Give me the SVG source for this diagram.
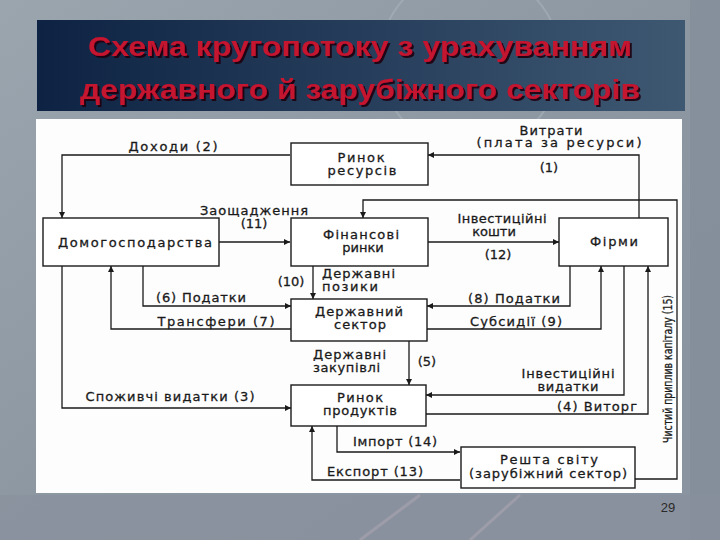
<svg xmlns="http://www.w3.org/2000/svg" width="720" height="540" viewBox="0 0 720 540">
<defs>
<linearGradient id="bg" x1="0" y1="0" x2="1" y2="1">
<stop offset="0" stop-color="#9aa5ae"/>
<stop offset="0.5" stop-color="#8c97a2"/>
<stop offset="1" stop-color="#8a93a0"/>
</linearGradient>
<linearGradient id="tb" x1="0" y1="0" x2="1" y2="0">
<stop offset="0" stop-color="#0e2343"/>
<stop offset="1" stop-color="#3e5872"/>
</linearGradient>
<filter id="sh" x="-5%" y="-20%" width="110%" height="140%">
<feDropShadow dx="2" dy="2" stdDeviation="0.6" flood-color="#1c0508" flood-opacity="0.9"/>
</filter>
<marker id="ar" viewBox="0 0 10 10" refX="10" refY="5" markerWidth="7" markerHeight="6" markerUnits="userSpaceOnUse" orient="auto">
<path d="M0,0 L10,5 L0,10 z" fill="#1a1a1a"/>
</marker>
<style>
.t{font-family:"DejaVu Sans","Liberation Sans",Arial,sans-serif;font-size:13px;fill:#1a1a1a;stroke:#1a1a1a;stroke-width:0.3;}
.m{text-anchor:middle;}
.box{fill:#ffffff;stroke:#1a1a1a;stroke-width:1.4;}
.c{fill:none;stroke:#1a1a1a;stroke-width:1.3;}
.ttl{font-family:"Liberation Sans",Arial,sans-serif;font-size:28px;font-weight:bold;text-anchor:middle;fill:#c4122f;filter:url(#sh);}
</style>
</defs>
<g id="background">
<rect x="0" y="0" width="720" height="540" fill="url(#bg)"/>
<circle cx="470" cy="60" r="90" fill="none" stroke="#a9b3bb" stroke-width="2" opacity="0.6"/>
<rect x="690" y="0" width="30" height="540" fill="#7f8a96" opacity="0.5"/>
<rect x="0" y="495" width="720" height="45" fill="#8a8f9c" opacity="0.6"/>
<path d="M360,540 L420,495 M470,540 L520,495" stroke="#b0a7b5" stroke-width="3" opacity="0.5"/>
</g>
<g id="title">
<rect x="37" y="20" width="648" height="91" fill="url(#tb)"/>
<text class="ttl" x="360" y="56" textLength="544" lengthAdjust="spacingAndGlyphs">Схема кругопотоку з урахуванням</text>
<text class="ttl" x="360" y="99" textLength="560" lengthAdjust="spacingAndGlyphs">державного й зарубіжного секторів</text>
</g>
<rect id="panel" x="36" y="119" width="646" height="374" fill="#fdfdfd"/>
<g id="connectors">
<path class="c" d="M639,218 V155 H428" marker-end="url(#ar)"/>
<path class="c" d="M290,155 H62 V218" marker-end="url(#ar)"/>
<path class="c" d="M219,242 H290" marker-end="url(#ar)"/>
<path class="c" d="M635,479 H677 V200 H363 V218" marker-end="url(#ar)"/>
<path class="c" d="M428,242 H559" marker-end="url(#ar)"/>
<path class="c" d="M313,266 V299" marker-end="url(#ar)"/>
<path class="c" d="M143,266 V306 H291" marker-end="url(#ar)"/>
<path class="c" d="M291,329 H111 V266" marker-end="url(#ar)"/>
<path class="c" d="M570,266 V306 H427" marker-end="url(#ar)"/>
<path class="c" d="M427,329 H601 V266" marker-end="url(#ar)"/>
<path class="c" d="M62,266 V408 H291" marker-end="url(#ar)"/>
<path class="c" d="M409,341 V385" marker-end="url(#ar)"/>
<path class="c" d="M624,266 V395 H426" marker-end="url(#ar)"/>
<path class="c" d="M426,414 H648 V266" marker-end="url(#ar)"/>
<path class="c" d="M337,426 V452 H460" marker-end="url(#ar)"/>
<path class="c" d="M460,480 H312 V426" marker-end="url(#ar)"/>
</g>
<g id="labels">
<text class="t m" x="173" y="151" textLength="89" lengthAdjust="spacing">Доходи  (2)</text>
<text class="t m" x="551" y="135" textLength="63" lengthAdjust="spacing">Витрати</text>
<text class="t m" x="559" y="147" textLength="165" lengthAdjust="spacing">(плата за ресурси)</text>
<text class="t m" x="549" y="172">(1)</text>
<text class="t m" x="254" y="215" textLength="108" lengthAdjust="spacing">Заощадження</text>
<text class="t m" x="254" y="228">(11)</text>
<text class="t m" x="502" y="223" textLength="89" lengthAdjust="spacing">Інвестиційні</text>
<text class="t m" x="494" y="236">кошти</text>
<text class="t m" x="498" y="259">(12)</text>
<text class="t m" x="291" y="286">(10)</text>
<text class="t" x="322" y="278" textLength="73" lengthAdjust="spacing">Державні</text>
<text class="t" x="322" y="291" textLength="56" lengthAdjust="spacing">позики</text>
<text class="t m" x="201" y="302" textLength="90" lengthAdjust="spacing">(6) Податки</text>
<text class="t m" x="216" y="326" textLength="117" lengthAdjust="spacing">Трансфери  (7)</text>
<text class="t m" x="514" y="303" textLength="92" lengthAdjust="spacing">(8) Податки</text>
<text class="t m" x="516" y="326" textLength="92" lengthAdjust="spacing">Субсидії (9)</text>
<text class="t" x="313" y="359" textLength="73" lengthAdjust="spacing">Державні</text>
<text class="t" x="313" y="372" textLength="67" lengthAdjust="spacing">закупівлі</text>
<text class="t m" x="427" y="366">(5)</text>
<text class="t m" x="170" y="401" textLength="169" lengthAdjust="spacing">Споживчі видатки  (3)</text>
<text class="t m" x="568" y="378" textLength="93" lengthAdjust="spacing">Інвестиційні</text>
<text class="t m" x="568" y="391" textLength="61" lengthAdjust="spacing">видатки</text>
<text class="t m" x="597" y="411" textLength="80" lengthAdjust="spacing">(4) Виторг</text>
<text class="t m" x="395" y="446" textLength="84" lengthAdjust="spacing">Імпорт (14)</text>
<text class="t m" x="375" y="476" textLength="96" lengthAdjust="spacing">Експорт (13)</text>
<text class="t m" transform="translate(672,369) rotate(-90)" x="0" y="0" textLength="148" lengthAdjust="spacingAndGlyphs">Чистий приплив капіталу (15)</text>
</g>
<g id="rynok-resursiv">
<rect class="box" x="291" y="143" width="137" height="42"/>
<text class="t m" x="361" y="162" textLength="47" lengthAdjust="spacing">Ринок</text>
<text class="t m" x="362" y="175" textLength="69" lengthAdjust="spacing">ресурсів</text>
</g>
<g id="domohospodarstva">
<rect class="box" x="43" y="218" width="176" height="48"/>
<text class="t m" x="135" y="247" textLength="154" lengthAdjust="spacing">Домогосподарства</text>
</g>
<g id="finansovi-rynky">
<rect class="box" x="291" y="218" width="137" height="48"/>
<text class="t m" x="361" y="239" textLength="76" lengthAdjust="spacing">Фінансові</text>
<text class="t m" x="363" y="252">ринки</text>
</g>
<g id="firmy">
<rect class="box" x="559" y="218" width="109" height="48"/>
<text class="t m" x="614" y="246" textLength="48" lengthAdjust="spacing">Фірми</text>
</g>
<g id="derzhavnyi-sektor">
<rect class="box" x="291" y="299" width="136" height="42"/>
<text class="t m" x="359" y="316" textLength="88" lengthAdjust="spacing">Державний</text>
<text class="t m" x="360" y="329" textLength="52" lengthAdjust="spacing">сектор</text>
</g>
<g id="rynok-produktiv">
<rect class="box" x="291" y="385" width="135" height="41"/>
<text class="t m" x="360" y="402" textLength="46" lengthAdjust="spacing">Ринок</text>
<text class="t m" x="360" y="415" textLength="74" lengthAdjust="spacing">продуктів</text>
</g>
<g id="reshta-svitu">
<rect class="box" x="461" y="447" width="174" height="41"/>
<text class="t m" x="549" y="464" textLength="98" lengthAdjust="spacing">Решта світу</text>
<text class="t m" x="548" y="478" textLength="158" lengthAdjust="spacing">(зарубіжний сектор)</text>
</g>
<text x="668" y="512" font-family="Liberation Sans, Arial, sans-serif" font-size="13" fill="#2a2a2a" text-anchor="middle">29</text>
</svg>
